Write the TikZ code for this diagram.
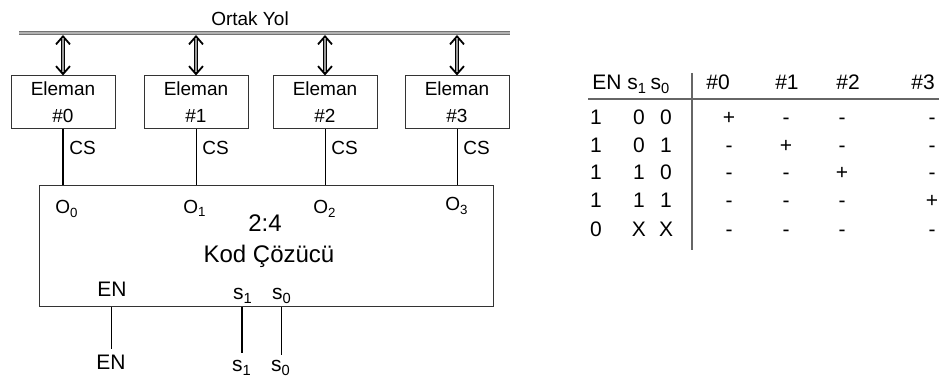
\documentclass[tikz,border=0pt]{standalone}
\usepackage{fontspec}
\setmainfont{Liberation Sans}
\usetikzlibrary{arrows.meta}
\def\ix#1{\textsubscript{#1}}
\def\uc{Straight Barb[length=4pt,width=7pt,line width=0.9pt]}

\begin{document}
\begin{tikzpicture}[x=0.5pt,y=-0.5pt,
  every node/.style={font=\fontsize{9.5}{13.5}\selectfont,inner sep=1pt},
  eleman/.style={draw=black!80,line width=0.5pt,minimum width=52pt,minimum height=26.5pt,align=center},
  yol/.style={draw=black!55,double=black!30,double distance=1pt,line width=0.6pt},
  okuc/.style={line width=0.8pt,{\uc}-{\uc}},
  okgovde/.style={double=black!40,double distance=0.9pt,line width=0.6pt,shorten >=1.5pt,shorten <=1.5pt},
  tel/.style={line width=0.5pt},
  kalin/.style={line width=1pt},
  etiket/.style={anchor=base,text height=7.5pt,font=\fontsize{10.5}{12}\selectfont},
  tablo/.style={anchor=base,font=\fontsize{10.5}{12}\selectfont},
  cizgi/.style={draw=black!60,line width=0.6pt}]
\useasboundingbox (0,0) rectangle (939,378);
% ortak yol
\coordinate (yolA) at (19,33);
\coordinate (yolB) at (510,33);
\draw[yol] (yolA) -- (yolB);
\node[anchor=base] (yolad) at (250,26) {Ortak Yol};
% kod cozucu
\node[draw=black!80,line width=0.5pt,minimum width=227pt,minimum height=60.5pt,inner sep=0pt] (dec) at (266,246.5) {};
\node[anchor=base,font=\fontsize{12}{14}\selectfont] (oran) at (265,232) {2:4};
\node[anchor=base,font=\fontsize{12}{14}\selectfont] (ad) at (269,263) {Kod Çözücü};
% elemanlar
\foreach \i/\x/\ox/\oy in {0/63/67/214,1/196/195/214,2/325/325/214,3/457/457/211}{
  \node[eleman] (e\i) at (\x,102.5) {Eleman\\\#\i};
  \coordinate (b\i) at (\x,35);
  \draw[okuc] (b\i) -- (e\i.north);
  \draw[okgovde] (b\i) -- (e\i.north);
  \node[anchor=base west] (cs\i) at (\x+4,155) {CS};
  \node[anchor=base] (o\i) at (\ox,\oy) {O\ix{\i}};
}
\draw[kalin] (e0.south) -- (e0.south |- dec.north);
\foreach \i in {1,2,3} \draw[tel] (e\i.south) -- (e\i.south |- dec.north);
% girisler
\node[etiket] (enIc) at (112,297) {EN};
\node[etiket] (s1Ic) at (243,300) {s\ix{1}};
\node[etiket] (s0Ic) at (282,300) {s\ix{0}};
\node[etiket,outer sep=2pt] (enDis) at (111,370) {EN};
\node[etiket,outer sep=1pt] (s1Dis) at (242,372) {s\ix{1}};
\node[etiket,outer sep=0pt] (s0Dis) at (281,372) {s\ix{0}};
\draw[tel] (dec.south -| enDis) -- (enDis.north);
\draw[kalin] (dec.south -| s1Dis) -- (s1Dis.north);
\draw[tel] (dec.south -| s0Dis) -- (s0Dis.north);
% dogruluk tablosu
\node[anchor=base west,font=\fontsize{10.5}{12}\selectfont] (baslik) at (590,90) {EN s\ix{1}\,s\ix{0}};
\foreach \k/\x in {0/718,1/787,2/848,3/923}
  \node[tablo] (h\k) at (\x,90) {\#\k};
\draw[cizgi] (588,99) -- (939,99);
\draw[cizgi] (692,73) -- (692,250);
\foreach \r/\y/\en/\sa/\sb/\p in {1/125/1/0/0/0,2/153/1/0/1/1,3/180/1/1/0/2,4/208/1/1/1/3,5/237/0/X/X/9}{
  \node[tablo] (en\r) at (596,\y) {\en};
  \node[tablo] (sa\r) at (639,\y) {\sa};
  \node[tablo] (sb\r) at (666,\y) {\sb};
  \foreach \k/\x in {0/729,1/786,2/842,3/932}
    \node[tablo] (d\r\k) at (\x,\y) {\ifnum\k=\p +\else -\fi};
}
\end{tikzpicture}
\end{document}
